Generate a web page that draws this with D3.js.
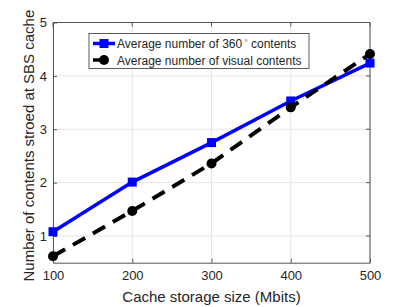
<!DOCTYPE html>
<html>
<head>
<meta charset="utf-8">
<script src="https://cdn.jsdelivr.net/npm/d3@7"></script>
<style>
  body { margin: 0; background: #fff; }
  text { font-family: "Liberation Sans", Arial, sans-serif; fill: #262626; }
</style>
</head>
<body>
<div id="chart"></div>
<script>
// data
const cacheSizes = [100, 200, 300, 400, 500];
const avg360 = [1.08, 2.01, 2.75, 3.53, 4.24];
const avgVisual = [0.62, 1.47, 2.36, 3.41, 4.41];
const xTicks = [100, 200, 300, 400, 500];
const yTicks = [1, 2, 3, 4, 5];

const width = 409, height = 307;
const margin = { top: 22.5, right: 39, bottom: 44.3, left: 53 };
const bw = width - margin.left - margin.right;
const bh = height - margin.top - margin.bottom;

const svg = d3.select("#chart").append("svg")
  .attr("width", width).attr("height", height);

const g = svg.append("g")
  .attr("transform", `translate(${margin.left},${margin.top})`);

const x = d3.scaleLinear().domain([100, 500]).range([0, bw]);
const y = d3.scaleLinear().domain([0.5, 5]).range([bh, 0]);

// grid
g.append("g").selectAll("line").data(xTicks).join("line")
  .attr("x1", d => x(d)).attr("x2", d => x(d))
  .attr("y1", 0).attr("y2", bh)
  .attr("stroke", "#e6e6e6").attr("stroke-width", 1);
g.append("g").selectAll("line").data(yTicks).join("line")
  .attr("x1", 0).attr("x2", bw)
  .attr("y1", d => y(d)).attr("y2", d => y(d))
  .attr("stroke", "#e6e6e6").attr("stroke-width", 1);

// axes (ticks pointing inward)
const xAxis = g.append("g")
  .attr("transform", `translate(0,${bh})`)
  .call(d3.axisBottom(x).tickValues(xTicks).tickFormat(d3.format("d"))
    .tickSizeInner(-4).tickSizeOuter(0).tickPadding(8));
const yAxis = g.append("g")
  .call(d3.axisLeft(y).tickValues(yTicks).tickFormat(d3.format("d"))
    .tickSizeInner(-4).tickSizeOuter(0).tickPadding(6));
[xAxis, yAxis].forEach(a => {
  a.select(".domain").attr("stroke", "#555");
  a.selectAll(".tick line").attr("stroke", "#555");
  a.selectAll("text").style("font-size", "13px").attr("fill", "#262626")
    .style("font-family", "Liberation Sans, Arial, sans-serif");
});
// box top/right
g.append("line").attr("x1", 0).attr("x2", bw).attr("y1", 0).attr("y2", 0).attr("stroke", "#555");
g.append("line").attr("x1", bw).attr("x2", bw).attr("y1", 0).attr("y2", bh).attr("stroke", "#555");
// right/top inward ticks
g.append("g").selectAll("line").data(yTicks).join("line")
  .attr("x1", bw).attr("x2", bw - 4).attr("y1", d => y(d)).attr("y2", d => y(d)).attr("stroke", "#555");
g.append("g").selectAll("line").data(xTicks).join("line")
  .attr("x1", d => x(d)).attr("x2", d => x(d)).attr("y1", 0).attr("y2", 4).attr("stroke", "#555");

// axis labels
g.append("text")
  .attr("text-anchor", "middle")
  .attr("x", bw / 2).attr("y", bh + 39)
  .style("font-size", "15px")
  .text("Cache storage size (Mbits)");
g.append("text")
  .attr("text-anchor", "middle")
  .attr("transform", `translate(${-19},${bh / 2 + 3}) rotate(-90)`)
  .style("font-size", "15px")
  .text("Number of contents stroed at SBS cache");

const line = d3.line()
  .x((d, i) => x(cacheSizes[i]))
  .y(d => y(d));

// blue series
g.append("path").datum(avg360)
  .attr("d", line).attr("fill", "none")
  .attr("stroke", "#0000ff").attr("stroke-width", 3.5);
g.append("g").selectAll("rect").data(avg360).join("rect")
  .attr("x", (d, i) => x(cacheSizes[i]) - 4.5)
  .attr("y", d => y(d) - 4.5)
  .attr("width", 9).attr("height", 9)
  .attr("fill", "#0000ff");

// black dashed series
g.append("path").datum(avgVisual)
  .attr("d", line).attr("fill", "none")
  .attr("stroke", "#000").attr("stroke-width", 4)
  .attr("stroke-dasharray", "14,9");
g.append("g").selectAll("circle").data(avgVisual).join("circle")
  .attr("cx", (d, i) => x(cacheSizes[i]))
  .attr("cy", d => y(d))
  .attr("r", 5).attr("fill", "#000");

// legend
const legend = svg.append("g").attr("transform", "translate(89,33.5)");
legend.append("rect")
  .attr("width", 220).attr("height", 35)
  .attr("fill", "#fff").attr("stroke", "#333").attr("stroke-width", 0.8);
const items = [
  { label: "Average number of 360", color: "#0000ff", marker: "square", dash: null },
  { label: "Average number of visual contents", color: "#000", marker: "circle", dash: "14,9" }
];
items.forEach((it, i) => {
  const row = legend.append("g").attr("transform", `translate(0,${10 + i * 16.5})`);
  row.append("line").attr("x1", 4).attr("x2", 26).attr("y1", 0).attr("y2", 0)
    .attr("stroke", it.color).attr("stroke-width", 3.5)
    .attr("stroke-dasharray", it.dash);
  if (it.marker === "square") {
    row.append("rect").attr("x", 10.5).attr("y", -4.5).attr("width", 9).attr("height", 9).attr("fill", it.color);
  } else {
    row.append("circle").attr("cx", 15).attr("cy", 0).attr("r", 5).attr("fill", it.color);
  }
  const t = row.append("text").attr("x", 28).attr("y", 4.5).style("font-size", "12px");
  if (i === 0) {
    t.append("tspan").text("Average number of 360");
    t.append("tspan").attr("dy", -3).style("font-size", "8px").text(" \u00b0");
    t.append("tspan").attr("dy", 3).text(" contents");
  } else {
    t.text(it.label);
  }
});
</script>
</body>
</html>
